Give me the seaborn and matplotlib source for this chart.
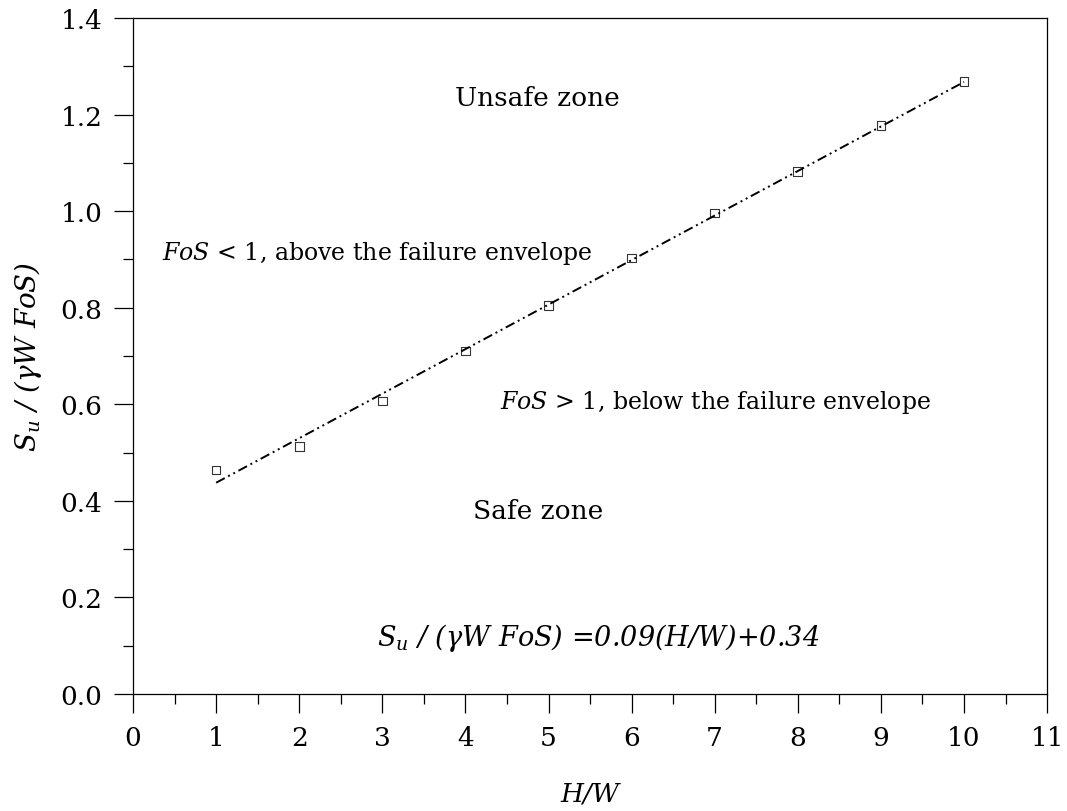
import numpy as np
import pandas as pd
import matplotlib
matplotlib.use("Agg")
import matplotlib.pyplot as plt
from matplotlib.ticker import MultipleLocator
import seaborn as sns

# Normalised undrained strength required for each height/width ratio
hw_ratio = [1, 2, 3, 4, 5, 6, 7, 8, 9, 10]
su_norm = [0.464, 0.513, 0.607, 0.710, 0.805, 0.903, 0.996, 1.082, 1.177, 1.268]

x_ticks = [0, 1, 2, 3, 4, 5, 6, 7, 8, 9, 10, 11]
y_ticks = [0.0, 0.2, 0.4, 0.6, 0.8, 1.0, 1.2, 1.4]

df = pd.DataFrame({"hw": hw_ratio, "su": su_norm})

sns.set_style("ticks")
plt.rcParams["font.family"] = ["DejaVu Serif"]
plt.rcParams["mathtext.fontset"] = "dejavuserif"
plt.rcParams["axes.linewidth"] = 0.9
plt.rcParams["text.color"] = "black"
plt.rcParams["axes.labelcolor"] = "black"
plt.rcParams["axes.edgecolor"] = "black"

fig = plt.figure(figsize=(10.67, 8.12), dpi=100)
ax = fig.add_axes([0.1247, 0.1441, 0.8566, 0.8325])

sns.regplot(
    data=df, x="hw", y="su", ax=ax, ci=None, marker="s",
    scatter_kws=dict(s=38, facecolors="none", edgecolors="black",
                     linewidths=0.8, zorder=3),
    line_kws=dict(color="black", lw=1.4,
                  linestyle=(0, (5, 2, 1, 2, 1, 2)), zorder=2),
)

ax.set_xlim(0, 11)
ax.set_ylim(0, 1.4)
ax.set_xticks(x_ticks)
ax.set_yticks(y_ticks)
ax.set_yticklabels([f"{v:.1f}" for v in y_ticks])
ax.xaxis.set_minor_locator(MultipleLocator(0.5))
ax.yaxis.set_minor_locator(MultipleLocator(0.1))
ax.tick_params(which="major", direction="out", length=14, width=0.9,
               labelsize=19, pad=8, colors="black")
ax.tick_params(which="minor", direction="out", length=7, width=0.9,
               colors="black")
for side in ("top", "right"):
    ax.spines[side].set_visible(True)

ax.set_xlabel("H/W", fontsize=19, style="italic", labelpad=22)
ax.set_ylabel("$S_u$ / (γW FoS)", fontsize=20, style="italic", labelpad=12)

ax.text(4.87, 1.236, "Unsafe zone", fontsize=19, ha="center", va="center")
ax.text(4.87, 0.38, "Safe zone", fontsize=19, ha="center", va="center")
ax.text(0.35, 0.915, r"$\it{FoS}$ < 1, above the failure envelope",
        fontsize=17, ha="left", va="center")
ax.text(4.42, 0.605, r"$\it{FoS}$ > 1, below the failure envelope",
        fontsize=17, ha="left", va="center")
ax.text(5.6, 0.118, "$S_u$ / (γW FoS) =0.09(H/W)+0.34",
        fontsize=19.5, style="italic", ha="center", va="center")

fig.savefig("out.png", dpi=100)
